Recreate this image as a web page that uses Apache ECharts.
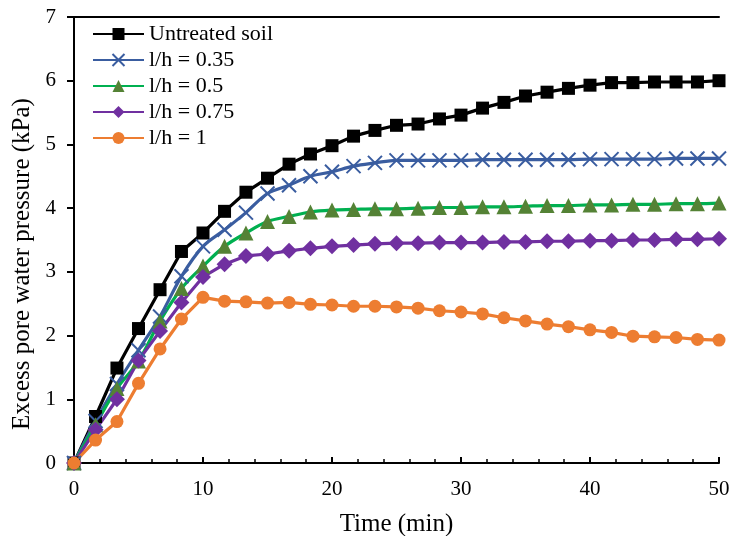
<!DOCTYPE html>
<html>
<head>
<meta charset="utf-8">
<script src="https://cdn.jsdelivr.net/npm/echarts@6/dist/echarts.min.js"></script>
<style>
html,body{margin:0;padding:0;background:#fff;}
#chart{width:731px;height:536px;}
</style>
</head>
<body>
<div id="chart"></div>
<script>
// Time (min)
var times = [0, 1.67, 3.33, 5, 6.67, 8.33, 10, 11.67, 13.33, 15, 16.67, 18.33, 20, 21.67, 23.33, 25, 26.67, 28.33, 30, 31.67, 33.33, 35, 36.67, 38.33, 40, 41.67, 43.33, 45, 46.67, 48.33, 50];
var seriesNames = ['Untreated soil', 'l/h = 0.35', 'l/h = 0.5', 'l/h = 0.75', 'l/h = 1'];
var untreated = [0, 0.73, 1.49, 2.11, 2.72, 3.32, 3.61, 3.95, 4.25, 4.47, 4.69, 4.85, 4.98, 5.13, 5.22, 5.30, 5.32, 5.40, 5.46, 5.57, 5.66, 5.76, 5.82, 5.88, 5.93, 5.97, 5.97, 5.98, 5.98, 5.98, 6.00];
var lh035 = [0, 0.66, 1.24, 1.77, 2.30, 2.93, 3.40, 3.66, 3.93, 4.23, 4.36, 4.50, 4.57, 4.66, 4.71, 4.75, 4.75, 4.75, 4.75, 4.76, 4.76, 4.76, 4.76, 4.76, 4.77, 4.77, 4.77, 4.77, 4.78, 4.78, 4.78];
var lh05 = [0, 0.60, 1.17, 1.60, 2.23, 2.74, 3.09, 3.40, 3.61, 3.79, 3.87, 3.94, 3.97, 3.98, 3.99, 3.99, 4.00, 4.01, 4.01, 4.02, 4.02, 4.03, 4.04, 4.04, 4.05, 4.05, 4.06, 4.06, 4.07, 4.07, 4.08];
var lh075 = [0, 0.52, 1.00, 1.61, 2.07, 2.52, 2.92, 3.12, 3.25, 3.28, 3.33, 3.37, 3.40, 3.42, 3.44, 3.45, 3.45, 3.46, 3.46, 3.46, 3.47, 3.47, 3.48, 3.48, 3.49, 3.49, 3.50, 3.50, 3.51, 3.51, 3.52];
var lh1 = [0, 0.36, 0.65, 1.25, 1.79, 2.26, 2.60, 2.54, 2.53, 2.51, 2.52, 2.49, 2.48, 2.46, 2.46, 2.45, 2.43, 2.39, 2.37, 2.34, 2.28, 2.23, 2.18, 2.14, 2.09, 2.05, 1.99, 1.98, 1.97, 1.94, 1.93];
var xTicks = [0, 10, 20, 30, 40, 50];
var yTicks = [0, 1, 2, 3, 4, 5, 6, 7];

function pairs(vals) {
  return times.map(function (t, i) { return [t, vals[i]]; });
}

var FONT = 'Liberation Serif';
var chart = echarts.init(document.getElementById('chart'));

function mkSeries(name, vals, color, markerColor, symbol, size, smooth, extra) {
  var s = {
    name: name,
    type: 'line',
    data: pairs(vals),
    symbol: symbol,
    symbolSize: size,
    smooth: smooth,
    showAllSymbol: true,
    lineStyle: { color: color, width: 3.2 },
    itemStyle: { color: markerColor },
    emphasis: { disabled: true },
    animation: false
  };
  if (extra) { for (var k in extra) s[k] = extra[k]; }
  return s;
}

var option = {
  backgroundColor: '#fff',
  animation: false,
  grid: { left: 74, right: 12, top: 17, bottom: 73, containLabel: false, outerBoundsMode: 'none' },
  legend: {
    orient: 'vertical',
    left: 87,
    top: 18,
    itemWidth: 51,
    itemHeight: 15,
    itemGap: 4,
    textStyle: { fontFamily: FONT, fontSize: 22, color: '#000' },
    data: seriesNames
  },
  xAxis: [{
    type: 'value',
    min: xTicks[0],
    max: xTicks[xTicks.length - 1],
    interval: 10,
    name: 'Time (min)',
    nameLocation: 'middle',
    nameGap: 49,
    nameTextStyle: { fontFamily: FONT, fontSize: 25, color: '#000' },
    axisLine: { lineStyle: { color: '#000', width: 2 } },
    axisTick: { show: true, inside: true, length: 6, lineStyle: { color: '#000', width: 2 } },
    minorTick: { show: true, splitNumber: 5, length: 4, lineStyle: { color: '#000', width: 1.5 } },
    axisLabel: { fontFamily: FONT, fontSize: 21, color: '#000', margin: 16 },
    splitLine: { show: false }
  }, {
    type: 'value',
    position: 'top',
    min: xTicks[0],
    max: xTicks[xTicks.length - 1],
    axisLine: { show: true, onZero: false, lineStyle: { color: '#000', width: 2 } },
    axisTick: { show: false },
    axisLabel: { show: false },
    splitLine: { show: false }
  }],
  yAxis: {
    type: 'value',
    min: yTicks[0],
    max: yTicks[yTicks.length - 1],
    interval: 1,
    name: 'Excess pore water pressure (kPa)',
    nameLocation: 'middle',
    nameGap: 35,
    nameTextStyle: { fontFamily: FONT, fontSize: 25, color: '#000', padding: [0, 48, 0, 0] },
    axisLine: { show: true, lineStyle: { color: '#000', width: 2 } },
    axisTick: { show: true, inside: false, length: 7, lineStyle: { color: '#000', width: 2 } },
    axisLabel: { fontFamily: FONT, fontSize: 21, color: '#000', margin: 18 },
    splitLine: { show: false }
  },
  series: [
    mkSeries(seriesNames[0], untreated, '#000000', '#000000', 'rect', 13, false),
    mkSeries(seriesNames[1], lh035, '#3A5DA0', '#3A5DA0', 'path://M0,0L10,10M10,0L0,10', 14, 0.35,
      { itemStyle: { color: '#3A5DA0', borderColor: '#3A5DA0', borderWidth: 2 } }),
    mkSeries(seriesNames[2], lh05, '#00B050', '#548235', 'triangle', 15, 0.35),
    mkSeries(seriesNames[3], lh075, '#7030A0', '#7030A0', 'diamond', 16, false),
    mkSeries(seriesNames[4], lh1, '#ED7D31', '#ED7D31', 'circle', 13, false)
  ]
};
chart.setOption(option);
</script>
</body>
</html>
